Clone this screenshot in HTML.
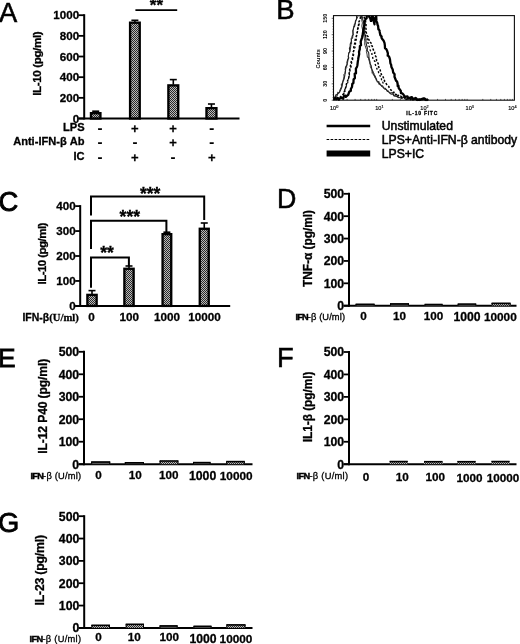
<!DOCTYPE html>
<html lang="en">
<head>
<meta charset="utf-8">
<title>Figure: IL-10 induction by IFN-&#946;</title>
<style>
html,body{margin:0;padding:0;background:#fff;}
body{width:520px;height:644px;overflow:hidden;}
svg{display:block;}
svg text{font-family:"Liberation Sans", Arial, Helvetica, sans-serif;fill:#000;}
</style>
</head>
<body>
<svg width="520" height="644" viewBox="0 0 520 644">
<defs>
<pattern id="hatch" width="2" height="2" patternUnits="userSpaceOnUse">
<rect width="2" height="2" fill="#bababa"/>
<rect x="0" y="0" width="1" height="1" fill="#2c2c2c"/>
<rect x="1" y="1" width="1" height="1" fill="#2c2c2c"/>
</pattern>
<filter id="soft" x="0" y="0" width="520" height="644" filterUnits="userSpaceOnUse"><feGaussianBlur stdDeviation="0.42"/></filter>
</defs>
<rect width="520" height="644" fill="#fff"/>
<g filter="url(#soft)">

<text x="-0.90" y="21.50" font-size="27.3" font-weight="normal" text-anchor="start" stroke="#000" stroke-width="0.55">A</text>
<text x="276.20" y="18.80" font-size="27.5" font-weight="normal" text-anchor="start" stroke="#000" stroke-width="0.55">B</text>
<text x="-1.50" y="211.00" font-size="27.3" font-weight="normal" text-anchor="start" stroke="#000" stroke-width="0.95">C</text>
<text x="277.00" y="207.60" font-size="26.8" font-weight="normal" text-anchor="start" stroke="#000" stroke-width="0.55">D</text>
<text x="-2.00" y="366.80" font-size="26.3" font-weight="normal" text-anchor="start" stroke="#000" stroke-width="0.9">E</text>
<text x="277.00" y="367.00" font-size="27.3" font-weight="normal" text-anchor="start" stroke="#000" stroke-width="0.55">F</text>
<text x="-1.90" y="532.00" font-size="27.3" font-weight="normal" text-anchor="start" stroke="#000" stroke-width="0.8">G</text>
<line x1="84.20" y1="14.20" x2="84.20" y2="119.50" stroke="#000" stroke-width="2"/>
<line x1="78.40" y1="118.50" x2="239.50" y2="118.50" stroke="#000" stroke-width="2"/>
<line x1="78.40" y1="118.50" x2="84.20" y2="118.50" stroke="#000" stroke-width="1.8"/>
<text x="79.10" y="122.68" font-size="11.6" font-weight="bold" text-anchor="end" stroke="#000" stroke-width="0.3">0</text>
<line x1="78.40" y1="97.84" x2="84.20" y2="97.84" stroke="#000" stroke-width="1.8"/>
<text x="79.10" y="102.02" font-size="11.6" font-weight="bold" text-anchor="end" stroke="#000" stroke-width="0.3">200</text>
<line x1="78.40" y1="77.18" x2="84.20" y2="77.18" stroke="#000" stroke-width="1.8"/>
<text x="79.10" y="81.36" font-size="11.6" font-weight="bold" text-anchor="end" stroke="#000" stroke-width="0.3">400</text>
<line x1="78.40" y1="56.52" x2="84.20" y2="56.52" stroke="#000" stroke-width="1.8"/>
<text x="79.10" y="60.70" font-size="11.6" font-weight="bold" text-anchor="end" stroke="#000" stroke-width="0.3">600</text>
<line x1="78.40" y1="35.86" x2="84.20" y2="35.86" stroke="#000" stroke-width="1.8"/>
<text x="79.10" y="40.04" font-size="11.6" font-weight="bold" text-anchor="end" stroke="#000" stroke-width="0.3">800</text>
<line x1="78.40" y1="15.20" x2="84.20" y2="15.20" stroke="#000" stroke-width="1.8"/>
<text x="79.10" y="19.38" font-size="11.6" font-weight="bold" text-anchor="end" stroke="#000" stroke-width="0.3">1000</text>
<text transform="translate(41.00,63.60) rotate(-90)" font-size="11.7" font-weight="bold" text-anchor="middle" textLength="64.5" lengthAdjust="spacing" stroke="#000" stroke-width="0.3">IL-10 (pg/ml)</text>
<line x1="95.70" y1="111.20" x2="95.70" y2="112.50" stroke="#000" stroke-width="1.6"/>
<line x1="92.20" y1="111.20" x2="99.20" y2="111.20" stroke="#000" stroke-width="1.6"/>
<rect x="90.97" y="113.17" width="9.45" height="5.33" fill="url(#hatch)" stroke="#000" stroke-width="2.35"/>
<line x1="134.90" y1="20.30" x2="134.90" y2="22.00" stroke="#000" stroke-width="1.6"/>
<line x1="131.40" y1="20.30" x2="138.40" y2="20.30" stroke="#000" stroke-width="1.6"/>
<rect x="130.08" y="22.68" width="9.65" height="95.83" fill="url(#hatch)" stroke="#000" stroke-width="2.35"/>
<line x1="173.30" y1="79.60" x2="173.30" y2="84.70" stroke="#000" stroke-width="1.6"/>
<line x1="169.80" y1="79.60" x2="176.80" y2="79.60" stroke="#000" stroke-width="1.6"/>
<rect x="168.38" y="85.38" width="9.85" height="33.12" fill="url(#hatch)" stroke="#000" stroke-width="2.35"/>
<line x1="211.45" y1="104.00" x2="211.45" y2="107.50" stroke="#000" stroke-width="1.6"/>
<line x1="207.95" y1="104.00" x2="214.95" y2="104.00" stroke="#000" stroke-width="1.6"/>
<rect x="206.48" y="108.17" width="9.95" height="10.32" fill="url(#hatch)" stroke="#000" stroke-width="2.35"/>
<line x1="135.40" y1="10.10" x2="177.20" y2="10.10" stroke="#000" stroke-width="1.9"/>
<text x="156.40" y="11.00" font-size="17" font-weight="bold" text-anchor="middle" stroke="#000" stroke-width="0.3">**</text>
<text x="84.60" y="131.20" font-size="11.1" font-weight="bold" text-anchor="end" stroke="#000" stroke-width="0.3">LPS</text>
<text x="84.60" y="145.20" font-size="11.1" font-weight="bold" text-anchor="end" stroke="#000" stroke-width="0.3">Anti-IFN-&#946; Ab</text>
<text x="84.60" y="160.00" font-size="11.1" font-weight="bold" text-anchor="end" stroke="#000" stroke-width="0.3">IC</text>
<text x="100.00" y="132.60" font-size="15" font-weight="bold" text-anchor="middle" stroke="#000" stroke-width="0.2">-</text>
<text x="134.90" y="132.65" font-size="13" font-weight="bold" text-anchor="middle" stroke="#000" stroke-width="0.25">+</text>
<text x="173.00" y="132.65" font-size="13" font-weight="bold" text-anchor="middle" stroke="#000" stroke-width="0.25">+</text>
<text x="211.80" y="132.60" font-size="15" font-weight="bold" text-anchor="middle" stroke="#000" stroke-width="0.2">-</text>
<text x="100.00" y="146.70" font-size="15" font-weight="bold" text-anchor="middle" stroke="#000" stroke-width="0.2">-</text>
<text x="134.90" y="146.70" font-size="15" font-weight="bold" text-anchor="middle" stroke="#000" stroke-width="0.2">-</text>
<text x="173.00" y="146.75" font-size="13" font-weight="bold" text-anchor="middle" stroke="#000" stroke-width="0.25">+</text>
<text x="211.80" y="146.70" font-size="15" font-weight="bold" text-anchor="middle" stroke="#000" stroke-width="0.2">-</text>
<text x="100.00" y="162.40" font-size="15" font-weight="bold" text-anchor="middle" stroke="#000" stroke-width="0.2">-</text>
<text x="134.90" y="162.45" font-size="13" font-weight="bold" text-anchor="middle" stroke="#000" stroke-width="0.25">+</text>
<text x="173.00" y="162.40" font-size="15" font-weight="bold" text-anchor="middle" stroke="#000" stroke-width="0.2">-</text>
<text x="211.80" y="162.45" font-size="13" font-weight="bold" text-anchor="middle" stroke="#000" stroke-width="0.25">+</text>
<rect x="333.5" y="15.6" width="180.90" height="84.60" fill="none" stroke="#111" stroke-width="1.1"/>
<clipPath id="bclip"><rect x="333.5" y="15.6" width="180.90" height="85.60"/></clipPath>
<path d="M331.3 98.7 L332.8 97.7 L333.7 97.8 L334.1 97.4 L335.1 96.4 L336.0 94.2 L337.2 95.3 L337.6 92.3 L339.0 93.3 L339.7 90.5 L341.0 87.6 L341.5 86.4 L341.3 83.9 L342.2 84.1 L342.6 81.5 L343.6 78.9 L344.0 76.1 L343.8 74.6 L345.1 73.3 L345.1 71.9 L345.8 68.8 L346.7 67.7 L346.5 65.1 L347.3 63.8 L348.1 59.8 L348.9 57.0 L348.5 57.0 L348.5 54.3 L348.7 52.9 L350.1 50.7 L350.6 48.0 L350.7 46.9 L350.9 44.6 L351.6 44.1 L351.5 41.3 L351.3 39.5 L352.5 38.5 L353.1 34.4 L352.9 33.7 L352.9 30.9 L353.6 27.8 L353.9 27.6 L354.4 23.9 L355.2 23.7 L355.5 20.2 L356.7 19.2 L357.7 16.9 L358.5 15.0 L360.2 15.8 L361.8 15.2 L361.5 17.0 L361.8 20.6 L362.4 22.8 L361.8 26.2 L362.5 29.5 L363.6 32.0 L363.3 34.0 L363.8 34.5 L364.4 38.8 L364.8 41.1 L364.7 42.2 L364.8 45.1 L365.2 45.7 L365.8 47.9 L366.5 49.4 L366.4 51.5 L367.0 54.0 L367.4 57.4 L368.6 57.1 L368.6 59.6 L369.2 60.8 L370.4 65.2 L370.3 65.5 L370.3 66.3 L371.1 68.6 L372.4 69.7 L372.0 73.3 L373.3 72.3 L374.0 73.3 L374.6 77.5 L375.7 78.0 L375.6 78.1 L376.3 80.5 L377.5 81.7 L378.0 81.2 L379.5 84.6 L380.5 85.0 L381.4 85.8 L381.6 86.1 L382.7 85.6 L383.2 87.3 L384.5 89.3 L386.4 89.4 L387.3 91.8 L388.3 90.8 L388.3 91.2 L389.2 91.9 L390.9 94.5 L392.3 93.8 L393.2 95.3 L393.5 95.4 L395.8 96.3 L396.7 96.0 L397.3 97.3 L398.8 97.7 L401.0 96.9 L401.6 98.9 L403.4 97.0 L403.8 97.1 L406.0 99.2 L406.2 99.4 L408.5 99.1 L408.9 98.9 L409.8 97.5 L412.1 99.6 L412.7 100.0 L413.8 100.0 L415.6 98.6 L416.0 98.9 L417.2 99.8 L418.5 99.3 L419.5 100.0 L421.1 99.6 L422.6 100.0 L423.6 100.0 L424.9 99.9 L426.2 98.5" fill="none" stroke="#222" stroke-width="0.9" stroke-linejoin="round" clip-path="url(#bclip)"/>
<path d="M331.1 98.9 L331.9 99.6 L333.5 97.9 L335.1 97.3 L335.6 96.3 L336.8 96.1 L337.2 94.7 L338.4 93.2 L339.8 91.8 L340.4 90.5 L341.6 87.8 L342.1 86.1 L342.4 84.4 L342.9 81.9 L343.4 80.8 L344.2 78.5 L344.9 74.9 L344.9 74.7 L345.6 70.7 L345.2 69.5 L345.6 67.1 L346.0 66.3 L347.2 64.9 L346.9 62.5 L347.9 58.9 L348.6 58.7 L348.2 56.4 L348.9 53.0 L350.0 51.6 L349.4 48.4 L350.2 46.2 L350.2 44.2 L351.2 41.5 L351.4 40.7 L351.2 38.5 L352.3 37.0 L352.0 36.3 L353.2 34.4 L352.9 30.6 L353.2 30.0 L353.9 26.4 L354.5 26.5 L355.4 22.9 L355.3 22.2 L356.5 19.2 L356.6 15.1 L358.8 15.3 L359.5 15.8 L361.7 16.4 L362.6 17.5 L362.8 20.0 L363.5 21.1 L363.9 25.0 L363.8 25.4 L364.4 28.1 L364.2 30.4 L364.4 32.8 L365.0 35.4 L365.8 37.6 L365.8 39.6 L366.0 41.5 L366.3 44.2 L367.4 48.2 L367.2 50.6 L368.6 52.3 L368.9 55.1 L369.0 58.0 L369.3 59.1 L370.1 62.3 L370.1 63.8 L371.0 65.2 L371.3 66.3 L371.5 67.6 L372.1 70.9 L372.9 71.3 L373.4 74.8 L375.0 75.7 L375.1 76.0 L375.9 78.0 L376.5 79.3 L377.4 82.0 L379.0 81.9 L378.9 84.0 L379.8 83.4 L380.2 84.4 L381.5 85.7 L382.0 86.6 L382.8 86.9 L384.0 88.2 L385.0 88.2 L386.4 89.6 L387.8 91.3 L389.1 92.3 L390.2 93.5 L390.9 92.7 L392.7 92.9 L393.6 94.8 L393.9 95.9 L396.0 95.8 L396.9 96.6 L397.3 96.3 L398.8 97.5 L400.3 97.8 L401.1 98.4 L402.3 98.3 L403.0 96.8 L404.0 97.8 L405.2 99.1 L406.9 98.8 L408.1 99.1 L409.2 97.5 L410.7 99.6 L411.5 99.2 L412.9 98.2 L414.2 98.7 L414.6 98.8 L416.6 98.7 L417.9 100.0 L418.8 99.3 L420.0 100.0 L421.6 100.0 L422.6 98.7 L423.3 99.2 L425.2 99.3 L426.2 98.6" fill="none" stroke="#222" stroke-width="1.1" stroke-linejoin="round" clip-path="url(#bclip)"/>
<path d="M336.4 98.5 L338.1 98.7 L339.3 97.4 L340.3 97.1 L341.5 96.0 L342.6 94.6 L343.4 94.3 L343.5 91.9 L344.9 91.3 L345.3 88.5 L345.7 87.6 L346.3 84.8 L346.8 82.6 L348.0 79.8 L348.5 78.4 L349.0 76.6 L348.9 74.9 L349.5 71.3 L349.6 70.0 L350.3 67.6 L350.5 65.6 L351.0 64.2 L351.2 61.8 L352.2 58.5 L352.6 57.2 L353.0 54.3 L353.0 52.2 L353.8 50.6 L353.7 48.4 L354.0 45.9 L354.2 45.3 L354.7 43.5 L355.0 40.4 L355.6 38.4 L355.9 37.8 L356.6 35.6 L356.8 33.9 L357.5 31.3 L357.7 28.5 L358.1 27.3 L358.5 25.7 L358.8 22.1 L360.0 19.7 L360.4 17.5 L361.1 17.3 L362.5 15.6 L363.2 14.7 L363.9 16.4 L364.4 17.6 L365.2 20.4 L365.6 21.5 L366.1 25.0 L365.9 25.8 L365.9 28.0 L366.2 30.2 L366.3 32.7 L367.3 35.7 L368.2 36.9 L368.6 39.0 L369.3 40.6 L369.7 41.9 L371.1 43.1 L371.3 45.4 L372.3 46.1 L372.5 47.6 L373.2 49.4 L374.2 51.8 L374.7 52.2 L374.6 55.0 L375.9 56.4 L376.2 57.3 L376.6 60.8 L377.6 62.6 L378.2 63.5 L378.2 65.3 L379.1 68.1 L380.0 69.6 L380.4 71.1 L380.9 72.2 L381.2 74.0 L382.2 76.2 L383.3 77.1 L383.7 78.9 L384.9 81.6 L385.5 82.1 L386.7 84.6 L387.6 85.6 L388.7 86.4 L389.5 88.4 L390.9 89.9 L391.8 90.8 L392.3 91.2 L393.8 92.8 L394.3 92.4 L395.4 94.3 L396.3 94.4 L397.4 96.4 L398.2 95.2 L399.3 96.2 L400.7 96.1 L401.8 97.3 L402.7 96.8 L404.1 97.3 L405.0 97.4 L405.6 98.7 L406.8 99.3 L408.1 98.1 L409.1 98.5 L410.7 99.5 L411.5 98.6 L412.7 99.7 L413.9 98.2 L415.0 98.9 L416.8 99.8 L417.9 100.0 L419.3 99.0 L419.9 100.0 L421.5 98.6 L422.7 99.3 L423.7 99.3 L424.7 98.8 L426.0 99.4" fill="none" stroke="#000" stroke-width="1.5" stroke-linejoin="round" clip-path="url(#bclip)" stroke-dasharray="2.2 1.6"/>
<path d="M364.6 22.9 L364.9 25.4 L364.7 28.7 L365.4 30.3 L365.1 32.7 L365.7 35.8 L366.1 37.0 L367.2 38.5 L367.3 42.0 L368.1 42.8 L368.1 44.9 L369.6 47.2 L370.2 50.2 L370.6 51.0 L371.9 53.5 L372.0 55.5 L372.6 56.6 L373.0 59.2 L374.3 60.8 L375.0 61.6 L375.0 64.0 L376.2 66.5 L376.4 66.9 L377.0 69.0 L378.0 70.1 L378.6 72.5 L379.3 74.0 L379.8 74.7 L380.2 76.2 L381.3 77.1 L381.5 79.7 L382.3 80.0 L382.8 82.2 L383.7 84.4" fill="none" stroke="#000" stroke-width="1.3" stroke-linejoin="round" clip-path="url(#bclip)" stroke-dasharray="2 2"/>
<path d="M343.8 94.6 L344.0 91.1 L344.7 89.9 L345.9 87.9 L346.3 85.9 L347.2 84.2 L347.8 82.4 L348.3 79.1 L349.0 77.2 L349.3 75.2 L349.8 72.9 L349.9 70.9 L350.2 69.9 L351.0 66.8 L351.2 65.9 L351.7 62.5 L352.4 61.0 L352.9 57.8 L353.0 56.8 L353.7 54.7 L353.5 51.4 L353.9 49.0 L355.0 47.7 L355.3 45.4 L355.6 43.6 L355.5 42.3 L356.4 39.2 L356.4 38.2 L356.5 35.8 L356.9 33.5 L357.4 32.0 L358.1 29.3 L358.0 27.4 L359.0 25.1 L359.1 23.0" fill="none" stroke="#000" stroke-width="1.2" stroke-linejoin="round" clip-path="url(#bclip)" stroke-dasharray="2 2"/>
<path d="M332.3 99.6 L332.6 98.3 L334.2 99.2 L335.7 97.9 L336.3 99.2 L337.8 98.0 L338.9 99.5 L340.1 98.3 L341.4 97.7 L343.2 98.7 L343.8 96.1 L345.4 95.6 L345.8 96.9 L347.2 95.6 L348.2 94.8 L349.2 91.9 L349.4 91.5 L350.8 90.9 L350.9 88.8 L352.0 87.0 L352.3 83.9 L353.4 83.0 L353.6 79.3 L354.9 78.1 L354.7 73.6 L356.0 73.3 L355.9 68.6 L356.9 67.0 L357.4 65.2 L357.8 61.6 L358.2 59.4 L358.3 58.3 L359.2 54.0 L359.0 51.9 L359.8 49.2 L359.9 46.2 L361.0 45.2 L360.7 41.7 L362.0 37.8 L362.6 35.3 L362.8 33.8 L363.3 30.5 L363.6 28.6 L364.0 26.6 L364.6 23.9 L364.5 22.2 L365.6 19.0 L366.6 18.3 L366.9 14.6 L368.0 14.1 L368.8 14.5 L369.3 17.0 L370.3 18.4 L370.9 20.9 L371.6 20.8 L371.8 17.0 L372.3 15.9 L373.5 17.7 L374.0 22.4 L374.5 24.3 L374.4 22.5 L375.2 20.1 L376.2 15.8 L376.4 19.9 L375.9 20.7 L377.1 22.4 L377.6 24.9 L378.1 26.0 L378.4 29.4 L378.7 29.2 L379.6 30.8 L379.7 31.9 L380.4 35.2 L381.6 36.6 L381.5 37.7 L382.2 39.0 L383.5 40.5 L384.5 42.9 L384.9 45.7 L385.0 48.2 L386.2 48.9 L387.1 50.8 L387.9 53.4 L387.7 55.6 L388.4 55.8 L389.3 57.2 L390.0 59.5 L390.4 63.2 L390.9 64.3 L391.1 64.6 L391.4 66.9 L392.7 69.5 L393.2 72.6 L393.4 72.8 L394.6 74.2 L394.5 76.8 L395.2 78.5 L396.0 80.7 L397.0 81.4 L397.6 83.6 L397.7 86.2 L398.4 85.6 L398.8 88.3 L400.4 90.3 L400.7 90.6 L401.0 93.1 L402.4 93.4 L403.4 94.5 L404.5 96.2 L405.0 97.2 L405.9 96.7 L407.5 96.4 L408.3 98.3 L409.6 97.9 L411.9 97.1 L412.3 98.5 L414.0 98.8 L415.6 97.9 L416.3 98.4 L417.2 100.0 L419.2 99.6 L419.4 100.0 L421.4 99.1 L422.6 99.2 L423.1 98.4 L424.3 98.3 L425.6 100.0 L427.1 100.0 L428.3 99.1" fill="none" stroke="#000" stroke-width="2.3" stroke-linejoin="round" clip-path="url(#bclip)"/>
<text x="334.10" y="110.00" font-size="5.6" font-weight="normal" text-anchor="middle" fill="#111" stroke="#111" stroke-width="0.15">10<tspan font-size="3.8" dy="-2.3">0</tspan></text>
<line x1="347.11" y1="100.20" x2="347.11" y2="98.90" stroke="#000" stroke-width="0.6"/>
<line x1="355.08" y1="100.20" x2="355.08" y2="98.90" stroke="#000" stroke-width="0.6"/>
<line x1="360.73" y1="100.20" x2="360.73" y2="98.90" stroke="#000" stroke-width="0.6"/>
<line x1="365.11" y1="100.20" x2="365.11" y2="98.90" stroke="#000" stroke-width="0.6"/>
<line x1="368.69" y1="100.20" x2="368.69" y2="98.90" stroke="#000" stroke-width="0.6"/>
<line x1="371.72" y1="100.20" x2="371.72" y2="98.90" stroke="#000" stroke-width="0.6"/>
<line x1="374.34" y1="100.20" x2="374.34" y2="98.90" stroke="#000" stroke-width="0.6"/>
<line x1="376.66" y1="100.20" x2="376.66" y2="98.90" stroke="#000" stroke-width="0.6"/>
<text x="379.33" y="110.00" font-size="5.6" font-weight="normal" text-anchor="middle" fill="#111" stroke="#111" stroke-width="0.15">10<tspan font-size="3.8" dy="-2.3">1</tspan></text>
<line x1="392.34" y1="100.20" x2="392.34" y2="98.90" stroke="#000" stroke-width="0.6"/>
<line x1="400.30" y1="100.20" x2="400.30" y2="98.90" stroke="#000" stroke-width="0.6"/>
<line x1="405.95" y1="100.20" x2="405.95" y2="98.90" stroke="#000" stroke-width="0.6"/>
<line x1="410.34" y1="100.20" x2="410.34" y2="98.90" stroke="#000" stroke-width="0.6"/>
<line x1="413.92" y1="100.20" x2="413.92" y2="98.90" stroke="#000" stroke-width="0.6"/>
<line x1="416.94" y1="100.20" x2="416.94" y2="98.90" stroke="#000" stroke-width="0.6"/>
<line x1="419.57" y1="100.20" x2="419.57" y2="98.90" stroke="#000" stroke-width="0.6"/>
<line x1="421.88" y1="100.20" x2="421.88" y2="98.90" stroke="#000" stroke-width="0.6"/>
<text x="424.55" y="110.00" font-size="5.6" font-weight="normal" text-anchor="middle" fill="#111" stroke="#111" stroke-width="0.15">10<tspan font-size="3.8" dy="-2.3">2</tspan></text>
<line x1="437.56" y1="100.20" x2="437.56" y2="98.90" stroke="#000" stroke-width="0.6"/>
<line x1="445.53" y1="100.20" x2="445.53" y2="98.90" stroke="#000" stroke-width="0.6"/>
<line x1="451.18" y1="100.20" x2="451.18" y2="98.90" stroke="#000" stroke-width="0.6"/>
<line x1="455.56" y1="100.20" x2="455.56" y2="98.90" stroke="#000" stroke-width="0.6"/>
<line x1="459.14" y1="100.20" x2="459.14" y2="98.90" stroke="#000" stroke-width="0.6"/>
<line x1="462.17" y1="100.20" x2="462.17" y2="98.90" stroke="#000" stroke-width="0.6"/>
<line x1="464.79" y1="100.20" x2="464.79" y2="98.90" stroke="#000" stroke-width="0.6"/>
<line x1="467.11" y1="100.20" x2="467.11" y2="98.90" stroke="#000" stroke-width="0.6"/>
<text x="469.77" y="110.00" font-size="5.6" font-weight="normal" text-anchor="middle" fill="#111" stroke="#111" stroke-width="0.15">10<tspan font-size="3.8" dy="-2.3">3</tspan></text>
<line x1="482.79" y1="100.20" x2="482.79" y2="98.90" stroke="#000" stroke-width="0.6"/>
<line x1="490.75" y1="100.20" x2="490.75" y2="98.90" stroke="#000" stroke-width="0.6"/>
<line x1="496.40" y1="100.20" x2="496.40" y2="98.90" stroke="#000" stroke-width="0.6"/>
<line x1="500.79" y1="100.20" x2="500.79" y2="98.90" stroke="#000" stroke-width="0.6"/>
<line x1="504.37" y1="100.20" x2="504.37" y2="98.90" stroke="#000" stroke-width="0.6"/>
<line x1="507.39" y1="100.20" x2="507.39" y2="98.90" stroke="#000" stroke-width="0.6"/>
<line x1="510.02" y1="100.20" x2="510.02" y2="98.90" stroke="#000" stroke-width="0.6"/>
<line x1="512.33" y1="100.20" x2="512.33" y2="98.90" stroke="#000" stroke-width="0.6"/>
<text x="512.40" y="110.00" font-size="5.6" font-weight="normal" text-anchor="middle" fill="#111" stroke="#111" stroke-width="0.15">10<tspan font-size="3.8" dy="-2.3">4</tspan></text>
<text x="421.80" y="115.40" font-size="5.0" font-weight="bold" text-anchor="middle" fill="#222" textLength="31" lengthAdjust="spacing" stroke="#000" stroke-width="0.3">IL-10 FITC</text>
<line x1="331.70" y1="100.20" x2="333.50" y2="100.20" stroke="#000" stroke-width="0.6"/>
<line x1="332.60" y1="97.47" x2="333.50" y2="97.47" stroke="#000" stroke-width="0.6"/>
<line x1="332.60" y1="94.74" x2="333.50" y2="94.74" stroke="#000" stroke-width="0.6"/>
<line x1="332.60" y1="92.01" x2="333.50" y2="92.01" stroke="#000" stroke-width="0.6"/>
<line x1="332.60" y1="89.28" x2="333.50" y2="89.28" stroke="#000" stroke-width="0.6"/>
<line x1="332.60" y1="86.55" x2="333.50" y2="86.55" stroke="#000" stroke-width="0.6"/>
<line x1="331.70" y1="83.82" x2="333.50" y2="83.82" stroke="#000" stroke-width="0.6"/>
<line x1="332.60" y1="81.09" x2="333.50" y2="81.09" stroke="#000" stroke-width="0.6"/>
<line x1="332.60" y1="78.36" x2="333.50" y2="78.36" stroke="#000" stroke-width="0.6"/>
<line x1="332.60" y1="75.63" x2="333.50" y2="75.63" stroke="#000" stroke-width="0.6"/>
<line x1="332.60" y1="72.90" x2="333.50" y2="72.90" stroke="#000" stroke-width="0.6"/>
<line x1="332.60" y1="70.17" x2="333.50" y2="70.17" stroke="#000" stroke-width="0.6"/>
<line x1="331.70" y1="67.44" x2="333.50" y2="67.44" stroke="#000" stroke-width="0.6"/>
<line x1="332.60" y1="64.71" x2="333.50" y2="64.71" stroke="#000" stroke-width="0.6"/>
<line x1="332.60" y1="61.98" x2="333.50" y2="61.98" stroke="#000" stroke-width="0.6"/>
<line x1="332.60" y1="59.25" x2="333.50" y2="59.25" stroke="#000" stroke-width="0.6"/>
<line x1="332.60" y1="56.52" x2="333.50" y2="56.52" stroke="#000" stroke-width="0.6"/>
<line x1="332.60" y1="53.79" x2="333.50" y2="53.79" stroke="#000" stroke-width="0.6"/>
<line x1="331.70" y1="51.06" x2="333.50" y2="51.06" stroke="#000" stroke-width="0.6"/>
<line x1="332.60" y1="48.33" x2="333.50" y2="48.33" stroke="#000" stroke-width="0.6"/>
<line x1="332.60" y1="45.60" x2="333.50" y2="45.60" stroke="#000" stroke-width="0.6"/>
<line x1="332.60" y1="42.87" x2="333.50" y2="42.87" stroke="#000" stroke-width="0.6"/>
<line x1="332.60" y1="40.14" x2="333.50" y2="40.14" stroke="#000" stroke-width="0.6"/>
<line x1="332.60" y1="37.41" x2="333.50" y2="37.41" stroke="#000" stroke-width="0.6"/>
<line x1="331.70" y1="34.68" x2="333.50" y2="34.68" stroke="#000" stroke-width="0.6"/>
<line x1="332.60" y1="31.95" x2="333.50" y2="31.95" stroke="#000" stroke-width="0.6"/>
<line x1="332.60" y1="29.22" x2="333.50" y2="29.22" stroke="#000" stroke-width="0.6"/>
<line x1="332.60" y1="26.49" x2="333.50" y2="26.49" stroke="#000" stroke-width="0.6"/>
<line x1="332.60" y1="23.76" x2="333.50" y2="23.76" stroke="#000" stroke-width="0.6"/>
<line x1="332.60" y1="21.03" x2="333.50" y2="21.03" stroke="#000" stroke-width="0.6"/>
<line x1="331.70" y1="18.30" x2="333.50" y2="18.30" stroke="#000" stroke-width="0.6"/>
<text transform="translate(327.2,100.2) rotate(-90)" font-size="5.3" font-weight="bold" text-anchor="middle" fill="#111">0</text>
<text transform="translate(327.2,83.8) rotate(-90)" font-size="5.3" font-weight="bold" text-anchor="middle" fill="#111">30</text>
<text transform="translate(327.2,67.4) rotate(-90)" font-size="5.3" font-weight="bold" text-anchor="middle" fill="#111">60</text>
<text transform="translate(327.2,51.1) rotate(-90)" font-size="5.3" font-weight="bold" text-anchor="middle" fill="#111">90</text>
<text transform="translate(327.2,34.7) rotate(-90)" font-size="5.3" font-weight="bold" text-anchor="middle" fill="#111">120</text>
<text transform="translate(327.2,18.3) rotate(-90)" font-size="5.3" font-weight="bold" text-anchor="middle" fill="#111">150</text>
<text transform="translate(319.8,58.8) rotate(-90)" font-size="5.6" font-weight="bold" text-anchor="middle" fill="#111">Counts</text>
<line x1="326.60" y1="126.00" x2="370.20" y2="126.00" stroke="#000" stroke-width="2.3"/>
<line x1="326.60" y1="139.50" x2="370.20" y2="139.50" stroke="#000" stroke-width="1.1" stroke-dasharray="2.6 1.4"/>
<line x1="326.60" y1="153.40" x2="370.20" y2="153.40" stroke="#000" stroke-width="6.0"/>
<text x="381.80" y="129.50" font-size="12.2" font-weight="normal" text-anchor="start" stroke="#000" stroke-width="0.5">Unstimulated</text>
<text x="381.80" y="143.50" font-size="12.2" font-weight="normal" text-anchor="start" stroke="#000" stroke-width="0.5">LPS+Anti-IFN-&#946; antibody</text>
<text x="381.80" y="157.50" font-size="12.2" font-weight="normal" text-anchor="start" stroke="#000" stroke-width="0.5">LPS+IC</text>
<line x1="80.20" y1="205.10" x2="80.20" y2="306.90" stroke="#000" stroke-width="2"/>
<line x1="75.20" y1="305.90" x2="230.20" y2="305.90" stroke="#000" stroke-width="2"/>
<line x1="75.20" y1="305.90" x2="80.20" y2="305.90" stroke="#000" stroke-width="1.8"/>
<text x="75.70" y="310.08" font-size="11.6" font-weight="bold" text-anchor="end" stroke="#000" stroke-width="0.3">0</text>
<line x1="75.20" y1="280.95" x2="80.20" y2="280.95" stroke="#000" stroke-width="1.8"/>
<text x="75.70" y="285.13" font-size="11.6" font-weight="bold" text-anchor="end" stroke="#000" stroke-width="0.3">100</text>
<line x1="75.20" y1="256.00" x2="80.20" y2="256.00" stroke="#000" stroke-width="1.8"/>
<text x="75.70" y="260.18" font-size="11.6" font-weight="bold" text-anchor="end" stroke="#000" stroke-width="0.3">200</text>
<line x1="75.20" y1="231.05" x2="80.20" y2="231.05" stroke="#000" stroke-width="1.8"/>
<text x="75.70" y="235.23" font-size="11.6" font-weight="bold" text-anchor="end" stroke="#000" stroke-width="0.3">300</text>
<line x1="75.20" y1="206.10" x2="80.20" y2="206.10" stroke="#000" stroke-width="1.8"/>
<text x="75.70" y="210.28" font-size="11.6" font-weight="bold" text-anchor="end" stroke="#000" stroke-width="0.3">400</text>
<text transform="translate(46.20,253.50) rotate(-90)" font-size="11.6" font-weight="bold" text-anchor="middle" textLength="62" lengthAdjust="spacing" stroke="#000" stroke-width="0.3">IL-10 (pg/ml)</text>
<line x1="92.00" y1="290.60" x2="92.00" y2="294.20" stroke="#000" stroke-width="1.6"/>
<line x1="88.50" y1="290.60" x2="95.50" y2="290.60" stroke="#000" stroke-width="1.6"/>
<rect x="87.38" y="294.88" width="9.25" height="11.02" fill="url(#hatch)" stroke="#000" stroke-width="2.35"/>
<line x1="129.00" y1="266.00" x2="129.00" y2="268.10" stroke="#000" stroke-width="1.6"/>
<line x1="125.50" y1="266.00" x2="132.50" y2="266.00" stroke="#000" stroke-width="1.6"/>
<rect x="124.38" y="268.78" width="9.25" height="37.12" fill="url(#hatch)" stroke="#000" stroke-width="2.35"/>
<line x1="166.90" y1="232.20" x2="166.90" y2="233.50" stroke="#000" stroke-width="1.6"/>
<line x1="163.40" y1="232.20" x2="170.40" y2="232.20" stroke="#000" stroke-width="1.6"/>
<rect x="162.58" y="234.18" width="8.65" height="71.72" fill="url(#hatch)" stroke="#000" stroke-width="2.35"/>
<line x1="204.25" y1="223.00" x2="204.25" y2="228.10" stroke="#000" stroke-width="1.6"/>
<line x1="200.75" y1="223.00" x2="207.75" y2="223.00" stroke="#000" stroke-width="1.6"/>
<rect x="199.78" y="228.78" width="8.95" height="77.12" fill="url(#hatch)" stroke="#000" stroke-width="2.35"/>
<path d="M91.0 215.4 V196.6 H204.2 V220.0" fill="none" stroke="#000" stroke-width="2.0"/>
<path d="M91.0 249.0 V220.8 H166.4 V232.2" fill="none" stroke="#000" stroke-width="2.0"/>
<path d="M91.0 287.8 V257.6 H128.9 V266.0" fill="none" stroke="#000" stroke-width="2.0"/>
<text x="150.20" y="199.80" font-size="17.5" font-weight="bold" text-anchor="middle" stroke="#000" stroke-width="0.3">***</text>
<text x="129.80" y="223.20" font-size="17.5" font-weight="bold" text-anchor="middle" stroke="#000" stroke-width="0.3">***</text>
<text x="107.00" y="259.20" font-size="17.5" font-weight="bold" text-anchor="middle" stroke="#000" stroke-width="0.3">**</text>
<text x="22.4" y="320.9" font-size="10.8" font-weight="bold" stroke="#000" stroke-width="0.3" textLength="56.4" lengthAdjust="spacingAndGlyphs">IFN-&#946;<tspan font-family='"Liberation Serif", "Times New Roman", serif' font-size="11">(U/ml)</tspan></text>
<text x="91.60" y="321.00" font-size="11.7" font-weight="bold" text-anchor="middle" stroke="#000" stroke-width="0.3">0</text>
<text x="129.20" y="321.00" font-size="11.7" font-weight="bold" text-anchor="middle" stroke="#000" stroke-width="0.3">100</text>
<text x="167.00" y="321.00" font-size="11.7" font-weight="bold" text-anchor="middle" stroke="#000" stroke-width="0.3">1000</text>
<text x="204.60" y="321.00" font-size="11.7" font-weight="bold" text-anchor="middle" stroke="#000" stroke-width="0.3">10000</text>
<line x1="349.00" y1="192.80" x2="349.00" y2="306.70" stroke="#000" stroke-width="2"/>
<line x1="343.60" y1="305.70" x2="516.50" y2="305.70" stroke="#000" stroke-width="2"/>
<line x1="343.60" y1="305.70" x2="349.00" y2="305.70" stroke="#000" stroke-width="1.8"/>
<text x="344.20" y="310.13" font-size="12.3" font-weight="bold" text-anchor="end" stroke="#000" stroke-width="0.3">0</text>
<line x1="343.60" y1="283.32" x2="349.00" y2="283.32" stroke="#000" stroke-width="1.8"/>
<text x="344.20" y="287.75" font-size="12.3" font-weight="bold" text-anchor="end" stroke="#000" stroke-width="0.3">100</text>
<line x1="343.60" y1="260.94" x2="349.00" y2="260.94" stroke="#000" stroke-width="1.8"/>
<text x="344.20" y="265.37" font-size="12.3" font-weight="bold" text-anchor="end" stroke="#000" stroke-width="0.3">200</text>
<line x1="343.60" y1="238.56" x2="349.00" y2="238.56" stroke="#000" stroke-width="1.8"/>
<text x="344.20" y="242.99" font-size="12.3" font-weight="bold" text-anchor="end" stroke="#000" stroke-width="0.3">300</text>
<line x1="343.60" y1="216.18" x2="349.00" y2="216.18" stroke="#000" stroke-width="1.8"/>
<text x="344.20" y="220.61" font-size="12.3" font-weight="bold" text-anchor="end" stroke="#000" stroke-width="0.3">400</text>
<line x1="343.60" y1="193.80" x2="349.00" y2="193.80" stroke="#000" stroke-width="1.8"/>
<text x="344.20" y="198.23" font-size="12.3" font-weight="bold" text-anchor="end" stroke="#000" stroke-width="0.3">500</text>
<text transform="translate(311.70,248.50) rotate(-90)" font-size="11.9" font-weight="bold" text-anchor="middle" textLength="77" lengthAdjust="spacing" stroke="#000" stroke-width="0.3">TNF-&#945; (pg/ml)</text>
<rect x="355.60" y="304.10" width="19.00" height="1.60" fill="#555"/>
<line x1="355.60" y1="304.30" x2="374.60" y2="304.30" stroke="#000" stroke-width="1.6"/>
<line x1="356.10" y1="304.10" x2="356.10" y2="305.70" stroke="#000" stroke-width="1.0"/>
<line x1="374.10" y1="304.10" x2="374.10" y2="305.70" stroke="#000" stroke-width="1.0"/>
<rect x="390.00" y="303.70" width="19.00" height="2.00" fill="#555"/>
<line x1="390.00" y1="303.90" x2="409.00" y2="303.90" stroke="#000" stroke-width="1.6"/>
<line x1="390.50" y1="303.70" x2="390.50" y2="305.70" stroke="#000" stroke-width="1.0"/>
<line x1="408.50" y1="303.70" x2="408.50" y2="305.70" stroke="#000" stroke-width="1.0"/>
<rect x="424.60" y="304.30" width="18.00" height="1.40" fill="#555"/>
<line x1="424.60" y1="304.50" x2="442.60" y2="304.50" stroke="#000" stroke-width="1.6"/>
<line x1="425.10" y1="304.30" x2="425.10" y2="305.70" stroke="#000" stroke-width="1.0"/>
<line x1="442.10" y1="304.30" x2="442.10" y2="305.70" stroke="#000" stroke-width="1.0"/>
<rect x="457.70" y="303.90" width="18.50" height="1.80" fill="#555"/>
<line x1="457.70" y1="304.10" x2="476.20" y2="304.10" stroke="#000" stroke-width="1.6"/>
<line x1="458.20" y1="303.90" x2="458.20" y2="305.70" stroke="#000" stroke-width="1.0"/>
<line x1="475.70" y1="303.90" x2="475.70" y2="305.70" stroke="#000" stroke-width="1.0"/>
<rect x="491.60" y="303.10" width="19.00" height="2.60" fill="url(#hatch)"/>
<line x1="491.60" y1="303.30" x2="510.60" y2="303.30" stroke="#000" stroke-width="1.6"/>
<line x1="492.10" y1="303.10" x2="492.10" y2="305.70" stroke="#000" stroke-width="1.0"/>
<line x1="510.10" y1="303.10" x2="510.10" y2="305.70" stroke="#000" stroke-width="1.0"/>
<text x="295.40" y="320.00" font-size="9.3" font-weight="normal" stroke="#000" stroke-width="0.32" textLength="49.6" lengthAdjust="spacing"><tspan font-weight="bold" font-size="9.2" letter-spacing="-0.9" stroke-width="0.45">IFN</tspan>-&#946; (U/ml)</text>
<text x="363.40" y="320.40" font-size="11.7" font-weight="bold" text-anchor="middle" stroke="#000" stroke-width="0.3">0</text>
<text x="399.60" y="320.40" font-size="11.7" font-weight="bold" text-anchor="middle" stroke="#000" stroke-width="0.3">10</text>
<text x="433.50" y="320.40" font-size="11.7" font-weight="bold" text-anchor="middle" stroke="#000" stroke-width="0.3">100</text>
<text x="467.00" y="321.00" font-size="12.2" font-weight="bold" text-anchor="middle" stroke="#000" stroke-width="0.3">1000</text>
<text x="500.30" y="321.00" font-size="11.8" font-weight="bold" text-anchor="middle" stroke="#000" stroke-width="0.3">10000</text>
<line x1="84.00" y1="350.80" x2="84.00" y2="465.20" stroke="#000" stroke-width="2"/>
<line x1="78.60" y1="464.20" x2="252.50" y2="464.20" stroke="#000" stroke-width="2"/>
<line x1="78.60" y1="464.20" x2="84.00" y2="464.20" stroke="#000" stroke-width="1.8"/>
<text x="79.20" y="468.63" font-size="12.3" font-weight="bold" text-anchor="end" stroke="#000" stroke-width="0.3">0</text>
<line x1="78.60" y1="441.72" x2="84.00" y2="441.72" stroke="#000" stroke-width="1.8"/>
<text x="79.20" y="446.15" font-size="12.3" font-weight="bold" text-anchor="end" stroke="#000" stroke-width="0.3">100</text>
<line x1="78.60" y1="419.24" x2="84.00" y2="419.24" stroke="#000" stroke-width="1.8"/>
<text x="79.20" y="423.67" font-size="12.3" font-weight="bold" text-anchor="end" stroke="#000" stroke-width="0.3">200</text>
<line x1="78.60" y1="396.76" x2="84.00" y2="396.76" stroke="#000" stroke-width="1.8"/>
<text x="79.20" y="401.19" font-size="12.3" font-weight="bold" text-anchor="end" stroke="#000" stroke-width="0.3">300</text>
<line x1="78.60" y1="374.28" x2="84.00" y2="374.28" stroke="#000" stroke-width="1.8"/>
<text x="79.20" y="378.71" font-size="12.3" font-weight="bold" text-anchor="end" stroke="#000" stroke-width="0.3">400</text>
<line x1="78.60" y1="351.80" x2="84.00" y2="351.80" stroke="#000" stroke-width="1.8"/>
<text x="79.20" y="356.23" font-size="12.3" font-weight="bold" text-anchor="end" stroke="#000" stroke-width="0.3">500</text>
<text transform="translate(46.80,406.20) rotate(-90)" font-size="12.2" font-weight="bold" text-anchor="middle" textLength="95" lengthAdjust="spacing" stroke="#000" stroke-width="0.3">IL-12 P40 (pg/ml)</text>
<rect x="91.20" y="461.80" width="19.00" height="2.40" fill="#555"/>
<line x1="91.20" y1="462.00" x2="110.20" y2="462.00" stroke="#000" stroke-width="1.6"/>
<line x1="91.70" y1="461.80" x2="91.70" y2="464.20" stroke="#000" stroke-width="1.0"/>
<line x1="109.70" y1="461.80" x2="109.70" y2="464.20" stroke="#000" stroke-width="1.0"/>
<rect x="124.80" y="462.60" width="19.20" height="1.60" fill="#555"/>
<line x1="124.80" y1="462.80" x2="144.00" y2="462.80" stroke="#000" stroke-width="1.6"/>
<line x1="125.30" y1="462.60" x2="125.30" y2="464.20" stroke="#000" stroke-width="1.0"/>
<line x1="143.50" y1="462.60" x2="143.50" y2="464.20" stroke="#000" stroke-width="1.0"/>
<rect x="159.60" y="460.80" width="18.80" height="3.40" fill="url(#hatch)"/>
<line x1="159.60" y1="461.00" x2="178.40" y2="461.00" stroke="#000" stroke-width="1.6"/>
<line x1="160.10" y1="460.80" x2="160.10" y2="464.20" stroke="#000" stroke-width="1.0"/>
<line x1="177.90" y1="460.80" x2="177.90" y2="464.20" stroke="#000" stroke-width="1.0"/>
<rect x="193.00" y="462.40" width="17.60" height="1.80" fill="#555"/>
<line x1="193.00" y1="462.60" x2="210.60" y2="462.60" stroke="#000" stroke-width="1.6"/>
<line x1="193.50" y1="462.40" x2="193.50" y2="464.20" stroke="#000" stroke-width="1.0"/>
<line x1="210.10" y1="462.40" x2="210.10" y2="464.20" stroke="#000" stroke-width="1.0"/>
<rect x="226.20" y="461.40" width="18.60" height="2.80" fill="url(#hatch)"/>
<line x1="226.20" y1="461.60" x2="244.80" y2="461.60" stroke="#000" stroke-width="1.6"/>
<line x1="226.70" y1="461.40" x2="226.70" y2="464.20" stroke="#000" stroke-width="1.0"/>
<line x1="244.30" y1="461.40" x2="244.30" y2="464.20" stroke="#000" stroke-width="1.0"/>
<text x="30.40" y="478.60" font-size="9.3" font-weight="normal" stroke="#000" stroke-width="0.32" textLength="50.6" lengthAdjust="spacing"><tspan font-weight="bold" font-size="9.2" letter-spacing="-0.9" stroke-width="0.45">IFN</tspan>-&#946; (U/ml)</text>
<text x="98.60" y="478.70" font-size="11.7" font-weight="bold" text-anchor="middle" stroke="#000" stroke-width="0.3">0</text>
<text x="135.20" y="478.70" font-size="11.7" font-weight="bold" text-anchor="middle" stroke="#000" stroke-width="0.3">10</text>
<text x="168.70" y="478.70" font-size="11.7" font-weight="bold" text-anchor="middle" stroke="#000" stroke-width="0.3">100</text>
<text x="202.60" y="479.70" font-size="12.3" font-weight="bold" text-anchor="middle" stroke="#000" stroke-width="0.3">1000</text>
<text x="236.20" y="479.70" font-size="11.8" font-weight="bold" text-anchor="middle" stroke="#000" stroke-width="0.3">10000</text>
<line x1="349.00" y1="351.00" x2="349.00" y2="465.20" stroke="#000" stroke-width="2"/>
<line x1="343.60" y1="464.20" x2="516.50" y2="464.20" stroke="#000" stroke-width="2"/>
<line x1="343.60" y1="464.20" x2="349.00" y2="464.20" stroke="#000" stroke-width="1.8"/>
<text x="344.20" y="468.63" font-size="12.3" font-weight="bold" text-anchor="end" stroke="#000" stroke-width="0.3">0</text>
<line x1="343.60" y1="441.76" x2="349.00" y2="441.76" stroke="#000" stroke-width="1.8"/>
<text x="344.20" y="446.19" font-size="12.3" font-weight="bold" text-anchor="end" stroke="#000" stroke-width="0.3">100</text>
<line x1="343.60" y1="419.32" x2="349.00" y2="419.32" stroke="#000" stroke-width="1.8"/>
<text x="344.20" y="423.75" font-size="12.3" font-weight="bold" text-anchor="end" stroke="#000" stroke-width="0.3">200</text>
<line x1="343.60" y1="396.88" x2="349.00" y2="396.88" stroke="#000" stroke-width="1.8"/>
<text x="344.20" y="401.31" font-size="12.3" font-weight="bold" text-anchor="end" stroke="#000" stroke-width="0.3">300</text>
<line x1="343.60" y1="374.44" x2="349.00" y2="374.44" stroke="#000" stroke-width="1.8"/>
<text x="344.20" y="378.87" font-size="12.3" font-weight="bold" text-anchor="end" stroke="#000" stroke-width="0.3">400</text>
<line x1="343.60" y1="352.00" x2="349.00" y2="352.00" stroke="#000" stroke-width="1.8"/>
<text x="344.20" y="356.43" font-size="12.3" font-weight="bold" text-anchor="end" stroke="#000" stroke-width="0.3">500</text>
<text transform="translate(311.70,406.90) rotate(-90)" font-size="11.9" font-weight="bold" text-anchor="middle" textLength="70.5" lengthAdjust="spacing" stroke="#000" stroke-width="0.3">IL1-&#946; (pg/ml)</text>
<rect x="389.60" y="461.35" width="18.20" height="2.85" fill="url(#hatch)"/>
<line x1="389.60" y1="461.55" x2="407.80" y2="461.55" stroke="#000" stroke-width="1.6"/>
<rect x="424.00" y="461.50" width="18.60" height="2.70" fill="url(#hatch)"/>
<line x1="424.00" y1="461.70" x2="442.60" y2="461.70" stroke="#000" stroke-width="1.6"/>
<rect x="457.30" y="461.50" width="18.40" height="2.70" fill="url(#hatch)"/>
<line x1="457.30" y1="461.70" x2="475.70" y2="461.70" stroke="#000" stroke-width="1.6"/>
<rect x="491.40" y="461.35" width="18.20" height="2.85" fill="url(#hatch)"/>
<line x1="491.40" y1="461.55" x2="509.60" y2="461.55" stroke="#000" stroke-width="1.6"/>
<text x="296.60" y="479.40" font-size="9.3" font-weight="normal" stroke="#000" stroke-width="0.32" textLength="51.4" lengthAdjust="spacing"><tspan font-weight="bold" font-size="9.2" letter-spacing="-0.9" stroke-width="0.45">IFN</tspan>-&#946; (U/ml)</text>
<text x="366.00" y="480.70" font-size="11.7" font-weight="bold" text-anchor="middle" stroke="#000" stroke-width="0.3">0</text>
<text x="402.20" y="480.70" font-size="11.7" font-weight="bold" text-anchor="middle" stroke="#000" stroke-width="0.3">10</text>
<text x="435.20" y="480.70" font-size="11.7" font-weight="bold" text-anchor="middle" stroke="#000" stroke-width="0.3">100</text>
<text x="469.60" y="481.70" font-size="11.7" font-weight="bold" text-anchor="middle" stroke="#000" stroke-width="0.3">1000</text>
<text x="503.00" y="481.70" font-size="11.7" font-weight="bold" text-anchor="middle" stroke="#000" stroke-width="0.3">10000</text>
<line x1="84.20" y1="515.20" x2="84.20" y2="628.90" stroke="#000" stroke-width="2"/>
<line x1="78.80" y1="627.90" x2="252.50" y2="627.90" stroke="#000" stroke-width="2"/>
<line x1="78.80" y1="627.90" x2="84.20" y2="627.90" stroke="#000" stroke-width="1.8"/>
<text x="79.40" y="632.33" font-size="12.3" font-weight="bold" text-anchor="end" stroke="#000" stroke-width="0.3">0</text>
<line x1="78.80" y1="605.56" x2="84.20" y2="605.56" stroke="#000" stroke-width="1.8"/>
<text x="79.40" y="609.99" font-size="12.3" font-weight="bold" text-anchor="end" stroke="#000" stroke-width="0.3">100</text>
<line x1="78.80" y1="583.22" x2="84.20" y2="583.22" stroke="#000" stroke-width="1.8"/>
<text x="79.40" y="587.65" font-size="12.3" font-weight="bold" text-anchor="end" stroke="#000" stroke-width="0.3">200</text>
<line x1="78.80" y1="560.88" x2="84.20" y2="560.88" stroke="#000" stroke-width="1.8"/>
<text x="79.40" y="565.31" font-size="12.3" font-weight="bold" text-anchor="end" stroke="#000" stroke-width="0.3">300</text>
<line x1="78.80" y1="538.54" x2="84.20" y2="538.54" stroke="#000" stroke-width="1.8"/>
<text x="79.40" y="542.97" font-size="12.3" font-weight="bold" text-anchor="end" stroke="#000" stroke-width="0.3">400</text>
<line x1="78.80" y1="516.20" x2="84.20" y2="516.20" stroke="#000" stroke-width="1.8"/>
<text x="79.40" y="520.63" font-size="12.3" font-weight="bold" text-anchor="end" stroke="#000" stroke-width="0.3">500</text>
<text transform="translate(44.00,570.20) rotate(-90)" font-size="12.3" font-weight="bold" text-anchor="middle" textLength="70.6" lengthAdjust="spacing" stroke="#000" stroke-width="0.3">IL-23 (pg/ml)</text>
<rect x="91.40" y="625.10" width="18.60" height="2.80" fill="url(#hatch)"/>
<line x1="91.40" y1="625.30" x2="110.00" y2="625.30" stroke="#000" stroke-width="1.6"/>
<line x1="91.90" y1="625.10" x2="91.90" y2="627.90" stroke="#000" stroke-width="1.0"/>
<line x1="109.50" y1="625.10" x2="109.50" y2="627.90" stroke="#000" stroke-width="1.0"/>
<rect x="125.70" y="624.10" width="18.30" height="3.80" fill="url(#hatch)"/>
<line x1="125.70" y1="624.30" x2="144.00" y2="624.30" stroke="#000" stroke-width="1.6"/>
<line x1="126.20" y1="624.10" x2="126.20" y2="627.90" stroke="#000" stroke-width="1.0"/>
<line x1="143.50" y1="624.10" x2="143.50" y2="627.90" stroke="#000" stroke-width="1.0"/>
<rect x="159.60" y="625.70" width="18.00" height="2.20" fill="#555"/>
<line x1="159.60" y1="625.90" x2="177.60" y2="625.90" stroke="#000" stroke-width="1.6"/>
<line x1="160.10" y1="625.70" x2="160.10" y2="627.90" stroke="#000" stroke-width="1.0"/>
<line x1="177.10" y1="625.70" x2="177.10" y2="627.90" stroke="#000" stroke-width="1.0"/>
<rect x="193.50" y="626.10" width="18.00" height="1.80" fill="#555"/>
<line x1="193.50" y1="626.30" x2="211.50" y2="626.30" stroke="#000" stroke-width="1.6"/>
<line x1="194.00" y1="626.10" x2="194.00" y2="627.90" stroke="#000" stroke-width="1.0"/>
<line x1="211.00" y1="626.10" x2="211.00" y2="627.90" stroke="#000" stroke-width="1.0"/>
<rect x="226.40" y="624.70" width="19.10" height="3.20" fill="url(#hatch)"/>
<line x1="226.40" y1="624.90" x2="245.50" y2="624.90" stroke="#000" stroke-width="1.6"/>
<line x1="226.90" y1="624.70" x2="226.90" y2="627.90" stroke="#000" stroke-width="1.0"/>
<line x1="245.00" y1="624.70" x2="245.00" y2="627.90" stroke="#000" stroke-width="1.0"/>
<text x="29.60" y="642.20" font-size="9.3" font-weight="normal" stroke="#000" stroke-width="0.32" textLength="51.4" lengthAdjust="spacing"><tspan font-weight="bold" font-size="9.2" letter-spacing="-0.9" stroke-width="0.45">IFN</tspan>-&#946; (U/ml)</text>
<text x="98.40" y="641.30" font-size="11.7" font-weight="bold" text-anchor="middle" stroke="#000" stroke-width="0.3">0</text>
<text x="134.30" y="641.30" font-size="11.7" font-weight="bold" text-anchor="middle" stroke="#000" stroke-width="0.3">10</text>
<text x="169.20" y="641.30" font-size="11.7" font-weight="bold" text-anchor="middle" stroke="#000" stroke-width="0.3">100</text>
<text x="203.00" y="643.10" font-size="12.2" font-weight="bold" text-anchor="middle" stroke="#000" stroke-width="0.3">1000</text>
<text x="236.00" y="643.10" font-size="11.8" font-weight="bold" text-anchor="middle" stroke="#000" stroke-width="0.3">10000</text>
</g>
</svg>
</body>
</html>
